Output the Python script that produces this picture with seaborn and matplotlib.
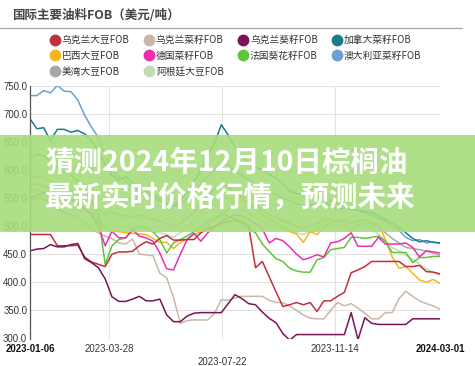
import numpy as np
import pandas as pd
import matplotlib
matplotlib.use('Agg')
import matplotlib.pyplot as plt
import seaborn as sns
from matplotlib.lines import Line2D
from matplotlib.patches import Rectangle
from matplotlib.ticker import FormatStrFormatter

sns.set_theme(style='white')
plt.rcParams['font.family'] = ['Noto Sans CJK SC', 'DejaVu Sans']

# ---------------- data ----------------
dates = pd.date_range('2023-01-06', periods=61, freq='7D')

names = ['乌克兰大豆FOB', '乌克兰菜籽FOB', '乌克兰葵籽FOB', '加拿大菜籽FOB',
         '巴西大豆FOB', '德国菜籽FOB', '法国葵花籽FOB', '澳大利亚菜籽FOB',
         '美湾大豆FOB', '阿根廷大豆FOB']
colors = ['#c0303c', '#c9b8a8', '#7a1458', '#1b7a8c',
          '#f4b81c', '#ec2fae', '#5ec639', '#6a9fd4',
          '#a8a8a8', '#c3dcb2']

ua_soy = [485, 485, 485, 485, 465, 465, 465, 466, 445, 436,
          432, 428, 450, 454, 454, 455, 465, 472, 468, 478,
          483, 475, 475, 476, 476, 488, 495, 500, 505, 508,
          510, 508, 500, 426, 437, 410, 383, 357, 360, 364,
          360, 364, 348, 367, 367, 375, 382, 417, 422, 428,
          437, 437, 437, 437, 437, 428, 428, 430, 419, 418,
          415]
ua_rape = [545, 550, 548, 540, 530, 525, 520, 515, 505, 495,
           488, 482, 478, 470, 468, 477, 450, 449, 447, 416,
           408, 373, 327, 332, 333, 333, 333, 345, 369, 368,
           372, 375, 375, 375, 375, 368, 364, 364, 358, 350,
           342, 336, 335, 335, 350, 364, 358, 362, 354, 345,
           335, 335, 346, 346, 371, 384, 375, 367, 362, 358,
           352]
ua_sun = [456, 459, 460, 467, 463, 463, 467, 469, 442, 435,
          426, 406, 374, 366, 366, 370, 375, 367, 367, 370,
          342, 330, 330, 340, 345, 346, 346, 346, 346, 362,
          378, 371, 362, 360, 347, 336, 328, 309, 297, 307,
          307, 307, 307, 307, 307, 307, 307, 346, 298, 337,
          327, 325, 325, 325, 325, 325, 335, 335, 335, 335,
          335]
ca_rape = [691, 673, 675, 652, 672, 672, 667, 670, 664, 652,
           635, 610, 590, 582, 588, 578, 568, 562, 556, 548,
           540, 536, 545, 560, 578, 600, 625, 648, 680, 662,
           640, 625, 612, 605, 600, 592, 585, 575, 562, 558,
           555, 556, 552, 545, 535, 530, 532, 530, 528, 526,
           525, 518, 512, 505, 498, 488, 478, 472, 474, 471,
           470]
br_soy = [590, 585, 588, 578, 570, 575, 565, 555, 545, 530,
          512, 495, 492, 490, 488, 487, 486, 485, 478, 471,
          471, 460, 471, 476, 485, 490, 500, 510, 520, 530,
          538, 545, 540, 530, 520, 512, 505, 500, 490, 486,
          471, 490, 485, 497, 505, 510, 500, 490, 502, 505,
          505, 504, 476, 445, 425, 428, 416, 404, 400, 405,
          398]
de_rape = [550, 555, 560, 550, 548, 545, 548, 540, 530, 520,
           500, 465, 491, 479, 479, 494, 482, 479, 473, 452,
           424, 422, 450, 476, 487, 473, 488, 498, 508, 515,
           520, 518, 512, 505, 495, 470, 478, 474, 463, 450,
           440, 444, 449, 445, 470, 472, 478, 488, 464, 464,
           464, 480, 468, 468, 468, 470, 462, 445, 456, 454,
           452]
fr_sun = [620, 628, 625, 615, 605, 598, 590, 580, 565, 545,
          520, 432, 465, 476, 479, 492, 500, 498, 490, 476,
          452, 470, 476, 482, 490, 500, 508, 515, 520, 518,
          512, 505, 495, 488, 468, 455, 442, 437, 425, 420,
          418, 418, 440, 444, 458, 460, 462, 480, 480, 478,
          480, 482, 473, 453, 453, 453, 435, 444, 444, 446,
          446]
au_rape = [732, 732, 741, 737, 750, 740, 739, 724, 697, 676,
           658, 625, 600, 588, 580, 570, 560, 555, 550, 545,
           540, 535, 540, 550, 562, 575, 588, 600, 612, 608,
           598, 590, 582, 575, 568, 562, 556, 550, 545, 540,
           537, 538, 540, 542, 545, 540, 536, 532, 528, 524,
           520, 514, 508, 500, 492, 480, 474, 476, 470, 472,
           469]
us_soy = [570, 575, 572, 565, 560, 565, 560, 555, 545, 540,
          530, 520, 525, 520, 518, 515, 520, 515, 512, 508,
          505, 500, 505, 515, 525, 540, 555, 565, 575, 570,
          560, 550, 540, 535, 528, 520, 515, 510, 505, 500,
          495, 500, 505, 510, 512, 508, 510, 505, 508, 512,
          505, 498, 488, 478, 470, 462, 460, 458, 455, 452,
          448]
ar_soy = [560, 565, 560, 555, 550, 552, 548, 540, 530, 522,
          512, 500, 505, 500, 498, 495, 500, 495, 490, 488,
          485, 480, 488, 498, 510, 525, 535, 545, 555, 550,
          540, 530, 522, 515, 508, 502, 498, 495, 492, 488,
          485, 490, 495, 500, 505, 500, 502, 498, 500, 505,
          495, 485, 475, 462, 456, 448, 441, 432, 424, 418,
          412]

all_series = [ua_soy, ua_rape, ua_sun, ca_rape, br_soy,
              de_rape, fr_sun, au_rape, us_soy, ar_soy]

major_ticks = ['2023-01-06', '2023-03-28', '2023-11-14', '2024-03-01']
minor_ticks = ['2023-07-22']
y_ticks = [300, 350, 400, 450, 500, 550, 600, 650, 700, 750]

title_text = '国际主要油料FOB（美元/吨）'
banner_lines = ['猜测2024年12月10日棕榈油', '最新实时价格行情，预测未来']

df = pd.DataFrame({
    'date': np.tile(dates, len(names)),
    'price': np.concatenate([np.array(s, dtype=float) for s in all_series]),
    'name': np.repeat(names, len(dates)),
})

# ---------------- figure ----------------
W, H = 475, 366
fig = plt.figure(figsize=(W / 100, H / 100), dpi=100)
fig.patch.set_facecolor('white')

ax = fig.add_axes([30 / W, 1 - 338.5 / H, 410 / W, (338.5 - 85.5) / H])
draw_order = [9, 8, 1, 4, 6, 5, 0, 2, 7, 3]
for i in draw_order:
    sub = df[df['name'] == names[i]]
    sns.lineplot(data=sub, x='date', y='price', color=colors[i],
                 linewidth=1.1, legend=False, ax=ax)

ax.set_ylim(300, 750)
ax.set_xlim(dates[0], dates[-1])
ax.set_yticks(y_ticks)
ax.yaxis.set_major_formatter(FormatStrFormatter('%.1f'))
ax.set_xticks(pd.to_datetime(major_ticks), labels=major_ticks)
ax.set_xticks(pd.to_datetime(minor_ticks), labels=minor_ticks, minor=True)
ax.set_xlabel('')
ax.set_ylabel('')

ax.grid(True, axis='y', color='#e2e2e2', linewidth=0.8)
ax.grid(True, axis='x', which='both', color='#e2e2e2', linewidth=0.8)
ax.set_axisbelow(True)
for s in ['top', 'right', 'bottom']:
    ax.spines[s].set_visible(False)
ax.spines['left'].set_color('#555555')
ax.spines['left'].set_linewidth(0.9)

ax.tick_params(axis='both', which='both', length=0, colors='#333333')
ax.tick_params(axis='y', pad=2)
ax.tick_params(axis='x', which='major', pad=4)
ax.tick_params(axis='x', which='minor', pad=13)
for lab in ax.get_yticklabels() + ax.get_xticklabels() + ax.get_xticklabels(minor=True):
    lab.set_fontfamily('Liberation Sans')
    lab.set_fontsize(6.9)
xl = ax.get_xticklabels()
xl[0].set_fontweight('bold')
xl[-1].set_fontweight('bold')
xl[0].set_color('#111111')
xl[-1].set_color('#111111')

# ---------------- title & separator ----------------
fig.text(12 / W, 1 - 15 / H, title_text, fontsize=9, fontweight='bold',
         color='#444444', va='center', ha='left')
fig.add_artist(Line2D([0, 462 / W], [1 - 28 / H, 1 - 28 / H],
                      color='#aaaaaa', linewidth=0.9))

# ---------------- legend ----------------
order = [0, 4, 8, 1, 5, 9, 2, 6, 3, 7]
handles = [Line2D([], [], linestyle='none', marker='o', markersize=7.5,
                  markerfacecolor=colors[i], markeredgecolor=colors[i])
           for i in order]
labels = [names[i] for i in order]
fig.legend(handles, labels, ncol=4, frameon=False,
           loc='upper left', bbox_to_anchor=(51 / W, 1 - 35 / H),
           fontsize=7, handlelength=0.8, handletextpad=0.3,
           columnspacing=1.6, labelspacing=0.6, borderaxespad=0,
           borderpad=0, labelcolor='#333333')

# ---------------- banner overlay ----------------
fig.add_artist(Rectangle((0, 1 - 232 / H), 1, 97 / H, transform=fig.transFigure,
                         facecolor='#a6dc7b', alpha=0.9, edgecolor='none',
                         zorder=5))
fig.text(45 / W, 1 - 163 / H, banner_lines[0], fontsize=20.5, fontweight='bold',
         color='white', va='center', ha='left', zorder=6)
fig.text(45 / W, 1 - 198 / H, banner_lines[1], fontsize=20.5, fontweight='bold',
         color='white', va='center', ha='left', zorder=6)

fig.savefig('out.png', dpi=100, facecolor='white')
